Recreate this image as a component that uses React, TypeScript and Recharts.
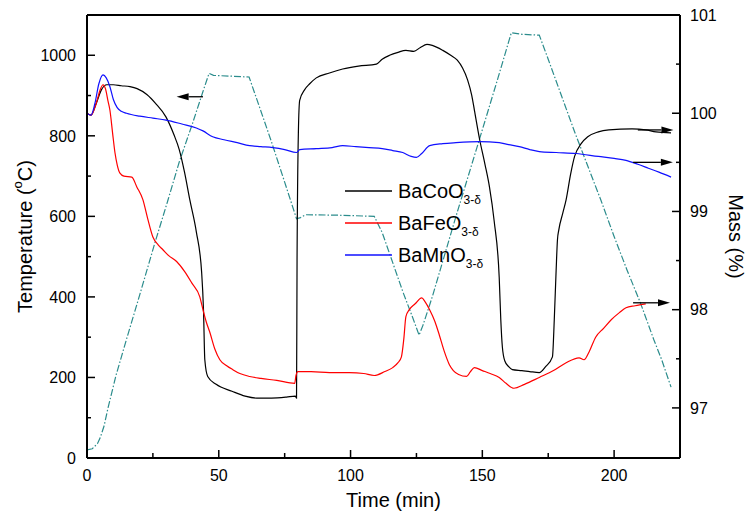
import React from "react"
import {
  ComposedChart,
  Line,
  XAxis,
  YAxis,
  Legend,
  ReferenceLine,
} from "recharts"

// Time (min) / mass (%) readings for each perovskite
const coTime = [0, 1.5, 3.5, 5.5, 7.5, 10, 13, 16.3, 19, 22.7, 26, 30, 33, 35, 37, 39, 41.5, 43.5, 44.2, 44.7, 45.8, 49, 55, 60, 64.4, 70, 75.7, 79, 79.5, 79.7, 80.2, 80.7, 82.6, 84.5, 87, 92, 97, 103, 109.8, 112, 114.8, 118, 121, 124, 126.5, 129, 131, 135, 138, 140.5, 142.5, 144.4, 146, 147, 149, 151, 152.7, 154.5, 156.4, 157, 157.6, 158.5, 160, 161.4, 165, 168, 171.6, 174, 176.6, 177.3, 178, 178.5, 179, 180.5, 181.8, 183.5, 185, 187.5, 190, 194, 198, 206.8, 212, 215.9, 221.6]
const coMass = [100.0, 99.98, 100.1, 100.24, 100.29, 100.29, 100.28, 100.27, 100.25, 100.19, 100.1, 99.96, 99.78, 99.63, 99.4, 99.12, 98.79, 98.38, 98.0, 97.49, 97.32, 97.24, 97.17, 97.12, 97.1, 97.1, 97.11, 97.12, 97.1, 98.5, 99.8, 100.13, 100.24, 100.3, 100.36, 100.41, 100.45, 100.48, 100.5, 100.55, 100.59, 100.62, 100.64, 100.63, 100.67, 100.7, 100.69, 100.64, 100.59, 100.54, 100.46, 100.34, 100.18, 100.03, 99.73, 99.48, 99.25, 98.9, 98.33, 97.9, 97.62, 97.48, 97.42, 97.39, 97.38, 97.37, 97.36, 97.42, 97.52, 97.9, 98.4, 98.71, 98.81, 98.98, 99.12, 99.38, 99.56, 99.69, 99.76, 99.81, 99.83, 99.84, 99.83, 99.81, 99.8]

const feTime = [0, 1.5, 3.5, 5, 6.1, 7, 8, 8.7, 9.7, 10.6, 11.5, 12.5, 14, 17, 18.9, 21.2, 23, 25, 27, 28.8, 31, 34, 37, 39.8, 42.8, 44, 45.2, 46.6, 48.5, 50.4, 53, 55.3, 58, 61.7, 66, 72, 78.8, 79.3, 80, 85, 92, 99.6, 105, 109, 113, 116, 118, 119.3, 120.2, 121, 122.3, 124.5, 127, 128.3, 130, 132, 133.7, 135.5, 137.5, 139, 141, 144, 145.5, 147, 150, 153, 156.4, 159, 162, 166, 171.6, 177, 181.8, 186.7, 188.6, 190.5, 193, 196, 199, 202, 204.5, 208, 212]
const feMass = [100.0, 99.98, 100.1, 100.24, 100.29, 100.25, 100.12, 100.03, 99.8, 99.6, 99.47, 99.39, 99.36, 99.35, 99.25, 99.12, 98.93, 98.74, 98.66, 98.61, 98.55, 98.49, 98.39, 98.27, 98.13, 98.0, 97.88, 97.77, 97.6, 97.49, 97.43, 97.39, 97.35, 97.32, 97.3, 97.28, 97.25, 97.33, 97.37, 97.37, 97.36, 97.36, 97.35, 97.33, 97.37, 97.41, 97.46, 97.52, 97.7, 97.93, 98.0, 98.06, 98.12, 98.08, 98.0, 97.88, 97.74, 97.58, 97.44, 97.38, 97.34, 97.32, 97.37, 97.41, 97.38, 97.35, 97.31, 97.25, 97.2, 97.24, 97.31, 97.38, 97.46, 97.51, 97.49, 97.57, 97.72, 97.81, 97.9, 97.97, 98.02, 98.04, 98.06]

const mnTime = [0, 1.5, 3, 4.5, 6.1, 7.3, 8.7, 10, 11.4, 13, 15, 20, 25, 30, 36, 41.5, 44, 47.7, 52, 57, 61.7, 66, 70.5, 75, 79.5, 80.7, 87, 93, 97, 102, 107, 112, 116, 119.8, 123, 125, 127, 130, 135, 140, 149, 156.4, 160, 164, 168, 171.6, 178, 185.6, 194, 200, 204.5, 209, 213, 217, 221.6]
const mnMass = [100.0, 99.98, 100.1, 100.3, 100.39, 100.36, 100.27, 100.14, 100.06, 100.02, 100.0, 99.97, 99.95, 99.93, 99.89, 99.85, 99.82, 99.76, 99.73, 99.7, 99.67, 99.66, 99.65, 99.63, 99.6, 99.63, 99.64, 99.65, 99.67, 99.66, 99.65, 99.64, 99.62, 99.6, 99.56, 99.55, 99.59, 99.67, 99.69, 99.7, 99.71, 99.7, 99.68, 99.66, 99.63, 99.61, 99.6, 99.59, 99.56, 99.54, 99.52, 99.48, 99.44, 99.4, 99.35]

// furnace temperature programme (left axis)
const tempTime = [0, 2, 4, 5, 6.5, 8, 9.5, 11, 13, 15, 20, 25.8, 30.7, 35, 40, 44, 46.3, 48, 55, 61.5, 65, 70, 75, 79.5, 81, 83, 95, 109, 112, 116, 120, 123.5, 126, 127.5, 131, 140, 150, 156, 161, 165, 171.6, 175, 180, 185, 190, 195, 200, 205, 210, 215, 218, 221.6]
const tempValue = [20, 23, 36, 50, 80, 125, 165, 205, 250, 295, 405, 535, 640, 735, 830, 910, 955, 950, 948, 946, 880, 785, 685, 594, 597, 604, 603, 600, 560, 485, 410, 350, 305, 330, 400, 600, 815, 945, 1056, 1052, 1050, 990, 900, 810, 725, 640, 550, 465, 385, 295, 245, 176]

const xTicks = [0, 25, 50, 75, 100, 125, 150, 175, 200, 225]
const tempTicks = [0, 100, 200, 300, 400, 500, 600, 700, 800, 900, 1000]
const massTicks = [97, 97.5, 98, 98.5, 99, 99.5, 100, 100.5, 101]

// arrows pointing each curve to its axis: [t, value] from -> to (head)
const arrows = [
  { axis: "left", from: [44, 897], to: [34, 897] },
  { axis: "right", from: [209, 99.83], to: [222.5, 99.83] },
  { axis: "right", from: [207.2, 99.5], to: [222.3, 99.5] },
  { axis: "right", from: [207.2, 98.07], to: [221.2, 98.07] },
]

const zip = (t: number[], v: number[]) => t.map((x, i) => ({ t: x, v: v[i] }))

const FONT = "Arial, 'Liberation Sans', sans-serif"

const LeftTick = (p: any) => {
  const { x, y, payload } = p
  const major = payload.value % 200 === 0
  return (
    <g>
      <line x1={x} x2={x + (major ? 8 : 4)} y1={y} y2={y} stroke="#000" strokeWidth={1.5} />
      {major && (
        <text x={x - 11} y={y} dy="0.36em" textAnchor="end" fontSize={16} fontFamily={FONT} fill="#000">
          {payload.value}
        </text>
      )}
    </g>
  )
}

const RightTick = (p: any) => {
  const { x, y, payload } = p
  const major = Math.abs(payload.value - Math.round(payload.value)) < 1e-6
  return (
    <g>
      <line x1={x} x2={x - (major ? 8 : 4)} y1={y} y2={y} stroke="#000" strokeWidth={1.5} />
      {major && (
        <text x={x + 10} y={y} dy="0.36em" textAnchor="start" fontSize={16} fontFamily={FONT} fill="#000">
          {payload.value}
        </text>
      )}
    </g>
  )
}

const BottomTick = (p: any) => {
  const { x, y, payload } = p
  const major = payload.value % 50 === 0
  return (
    <g>
      <line x1={x} x2={x} y1={y} y2={y - (major ? 8 : 5)} stroke="#000" strokeWidth={1.5} />
      {major && (
        <text x={x} y={y + 23} textAnchor="middle" fontSize={16} fontFamily={FONT} fill="#000">
          {payload.value}
        </text>
      )}
    </g>
  )
}

const Arrow = (p: any) => {
  const { x1, y1, x2, y2 } = p
  const len = Math.hypot(x2 - x1, y2 - y1) || 1
  const ux = (x2 - x1) / len
  const uy = (y2 - y1) / len
  const bx = x2 - ux * 12
  const by = y2 - uy * 12
  const pts = `${x2},${y2} ${bx - uy * 3.5},${by + ux * 3.5} ${bx + uy * 3.5},${by - ux * 3.5}`
  return (
    <g>
      <line x1={x1} y1={y1} x2={bx} y2={by} stroke="#000" strokeWidth={1.3} />
      <polygon points={pts} fill="#000" />
    </g>
  )
}

const TempTitle = (p: any) => {
  const vb = p.viewBox
  const cy = vb.y + vb.height / 2
  const cx = 25
  return (
    <text
      x={cx}
      y={cy}
      transform={`rotate(-90 ${cx} ${cy})`}
      textAnchor="middle"
      dominantBaseline="central"
      fontSize={20}
      fontFamily={FONT}
      fill="#000"
    >
      Temperature (<tspan fontSize={13} dy={-8}>o</tspan>
      <tspan fontSize={20} dy={8}>C)</tspan>
    </text>
  )
}

const MassTitle = (p: any) => {
  const vb = p.viewBox
  const cy = vb.y + vb.height / 2
  const cx = 736
  return (
    <text
      x={cx}
      y={cy}
      transform={`rotate(90 ${cx} ${cy})`}
      textAnchor="middle"
      dominantBaseline="central"
      fontSize={20}
      fontFamily={FONT}
      fill="#000"
    >
      Mass (%)
    </text>
  )
}

const TimeTitle = (p: any) => {
  const vb = p.viewBox
  return (
    <text x={vb.x + vb.width / 2 + 10} y={507} textAnchor="middle" fontSize={20} fontFamily={FONT} fill="#000">
      Time (min)
    </text>
  )
}

const renderLegend = (props: any) => {
  const items = (props.payload || []).filter((e: any) => e.type !== "none")
  return (
    <svg width={175} height={100} style={{ overflow: "visible" }}>
      {items.map((e: any, i: number) => {
        const ly = 16 + i * 32
        return (
          <g key={e.value}>
            <line x1={5} x2={52} y1={ly} y2={ly} stroke={e.color} strokeWidth={1.3} />
            <text x={58} y={ly + 7} fontSize={20} fontFamily={FONT} fill="#000">
              {e.value}
              <tspan fontSize={12} dy={6}>3-δ</tspan>
            </text>
          </g>
        )
      })}
    </svg>
  )
}

export default function App() {
  return (
    <div style={{ position: "absolute", left: 0, top: 0, width: 750, height: 517, background: "#fff" }}>
      <ComposedChart width={750} height={517} margin={{ top: 15, right: 0, bottom: 0, left: 0 }}>
        <XAxis
          type="number"
          dataKey="t"
          domain={[0, 225]}
          ticks={xTicks}
          interval={0}
          allowDataOverflow
          height={59}
          tickSize={0}
          tickMargin={0}
          tick={BottomTick}
          axisLine={{ stroke: "#000", strokeWidth: 2 }}
          label={{ content: TimeTitle }}
        />
        <YAxis
          yAxisId="left"
          orientation="left"
          type="number"
          domain={[0, 1100]}
          ticks={tempTicks}
          interval={0}
          allowDataOverflow
          width={87}
          tickSize={0}
          tickMargin={0}
          tick={LeftTick}
          axisLine={{ stroke: "#000", strokeWidth: 2 }}
          label={{ content: TempTitle }}
        />
        <YAxis
          yAxisId="right"
          orientation="right"
          type="number"
          domain={[96.49, 101]}
          ticks={massTicks}
          interval={0}
          allowDataOverflow
          width={70}
          tickSize={0}
          tickMargin={0}
          tick={RightTick}
          axisLine={{ stroke: "#000", strokeWidth: 2 }}
          label={{ content: MassTitle }}
        />
        <ReferenceLine yAxisId="left" y={1100} stroke="#000" strokeWidth={2} />
        <Line
          yAxisId="left"
          data={zip(tempTime, tempValue)}
          dataKey="v"
          name="Temperature"
          type="linear"
          stroke="#2b8c8c"
          strokeWidth={1.2}
          strokeDasharray="7 2 1.5 2"
          dot={false}
          legendType="none"
          isAnimationActive={false}
        />
        <Line
          yAxisId="right"
          data={zip(coTime, coMass)}
          dataKey="v"
          name="BaCoO"
          type="monotone"
          stroke="#000"
          strokeWidth={1.2}
          dot={false}
          isAnimationActive={false}
        />
        <Line
          yAxisId="right"
          data={zip(feTime, feMass)}
          dataKey="v"
          name="BaFeO"
          type="monotone"
          stroke="#ff0000"
          strokeWidth={1.2}
          dot={false}
          isAnimationActive={false}
        />
        <Line
          yAxisId="right"
          data={zip(mnTime, mnMass)}
          dataKey="v"
          name="BaMnO"
          type="monotone"
          stroke="#1010ff"
          strokeWidth={1.2}
          dot={false}
          isAnimationActive={false}
        />
        {arrows.map((a, i) => (
          <ReferenceLine
            key={i}
            yAxisId={a.axis}
            segment={[
              { x: a.from[0], y: a.from[1] },
              { x: a.to[0], y: a.to[1] },
            ]}
            shape={Arrow}
          />
        ))}
        <Legend
          layout="vertical"
          align="center"
          verticalAlign="middle"
          content={renderLegend}
          wrapperStyle={{ left: 340, top: 175, width: 175 }}
        />
      </ComposedChart>
    </div>
  )
}
